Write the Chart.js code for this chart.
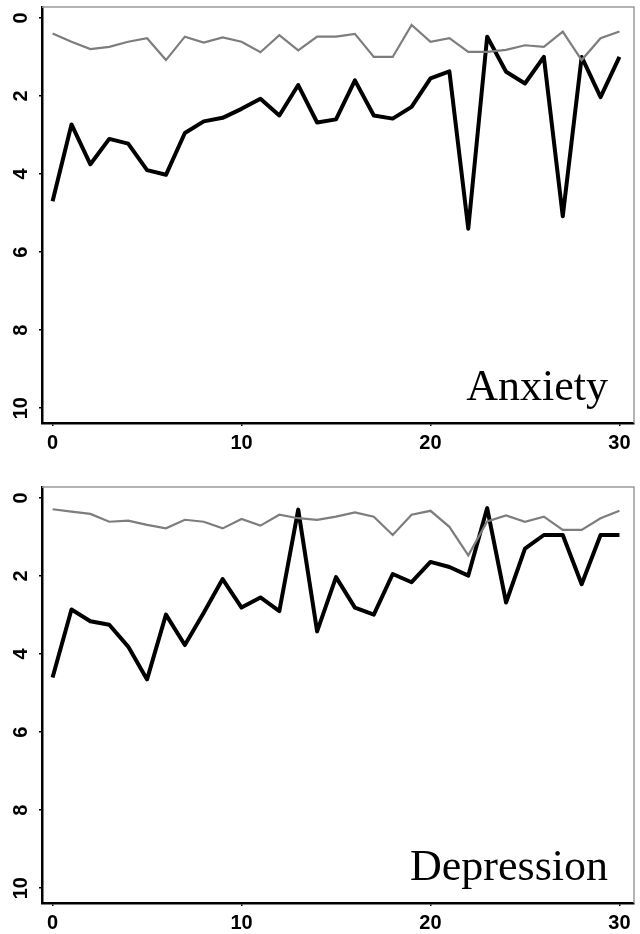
<!DOCTYPE html>
<html>
<head>
<meta charset="utf-8">
<script src="https://cdn.jsdelivr.net/npm/chart.js@4"></script>
<style>
  html, body { margin: 0; padding: 0; background: #fff; }
  body { width: 640px; height: 934px; overflow: hidden; }
  .panel { position: relative; width: 640px; height: 480px; }
</style>
</head>
<body>
<div class="panel"><canvas id="anxiety"></canvas></div>
<div class="panel"><canvas id="depression"></canvas></div>
<script>
// x axis: weeks
const weeks = [0, 1, 2, 3, 4, 5, 6, 7, 8, 9, 10, 11, 12, 13, 14, 15, 16, 17, 18, 19, 20, 21, 22, 23, 24, 25, 26, 27, 28, 29, 30];
const xTicks = [0, 10, 20, 30];
const yTicks = [0, 2, 4, 6, 8, 10];

// Anxiety panel
const anxietyBlack = [4.7, 2.73, 3.75, 3.1, 3.22, 3.9, 4.02, 2.95, 2.65, 2.56, 2.33, 2.07, 2.5, 1.72, 2.68, 2.6, 1.6, 2.5, 2.58, 2.28, 1.55, 1.37, 5.4, 0.48, 1.38, 1.68, 1.0, 5.08, 1.0, 2.03, 1.0];
const anxietyGray  = [0.4, 0.61, 0.8, 0.74, 0.61, 0.52, 1.08, 0.48, 0.63, 0.5, 0.61, 0.88, 0.44, 0.83, 0.48, 0.48, 0.41, 1.0, 1.0, 0.18, 0.61, 0.52, 0.87, 0.87, 0.82, 0.7, 0.74, 0.35, 1.08, 0.52, 0.35];

// Depression panel
const depressionBlack = [4.6, 2.86, 3.16, 3.25, 3.81, 4.65, 2.99, 3.77, 2.94, 2.08, 2.81, 2.55, 2.9, 0.3, 3.42, 2.03, 2.81, 2.99, 1.95, 2.16, 1.64, 1.77, 1.99, 0.26, 2.68, 1.3, 0.95, 0.95, 2.21, 0.95, 0.95];
const depressionGray  = [0.29, 0.35, 0.41, 0.61, 0.58, 0.69, 0.78, 0.56, 0.61, 0.78, 0.54, 0.71, 0.43, 0.52, 0.56, 0.48, 0.37, 0.48, 0.95, 0.43, 0.33, 0.74, 1.47, 0.6, 0.45, 0.61, 0.48, 0.82, 0.82, 0.52, 0.33];

const tickFont = { family: "'Liberation Sans', Arial, sans-serif", size: 20, weight: 'bold' };

// draws the grey top/right frame, rotated y labels and the panel name
const panelDecor = {
  id: 'panelDecor',
  afterDraw(chart, args, opts) {
    const ctx = chart.ctx;
    const a = chart.chartArea;
    const y = chart.scales.y;
    ctx.save();
    // top and right frame
    ctx.strokeStyle = '#9a9a9a';
    ctx.lineWidth = 1.5;
    ctx.beginPath();
    ctx.moveTo(a.left, a.top);
    ctx.lineTo(a.right, a.top);
    ctx.lineTo(a.right, a.bottom);
    ctx.stroke();

    // y tick labels, turned 90 degrees
    ctx.fillStyle = '#000';
    ctx.font = `bold ${tickFont.size}px ${tickFont.family}`;
    ctx.textAlign = 'center';
    ctx.textBaseline = 'middle';
    yTicks.forEach(v => {
      const py = y.getPixelForValue(v);
      ctx.save();
      ctx.translate(a.left - 22, py);
      ctx.rotate(-Math.PI / 2);
      ctx.fillText(String(v), 0, 1);
      ctx.restore();
    });

    // panel name
    ctx.font = "44px 'Liberation Serif', 'Times New Roman', serif";
    ctx.textAlign = 'right';
    ctx.textBaseline = 'alphabetic';
    ctx.fillText(opts.label, a.right - 26, a.bottom - 23);
    ctx.restore();
  }
};

function makePanel(id, label, black, gray) {
  const toPoints = arr => weeks.map((w, i) => ({ x: w, y: arr[i] }));
  return new Chart(document.getElementById(id), {
    type: 'line',
    data: {
      datasets: [
        { data: toPoints(gray), borderColor: '#7d7d7d', borderWidth: 2.2, pointRadius: 0, tension: 0 },
        { data: toPoints(black), borderColor: '#000', borderWidth: 4, pointRadius: 0, tension: 0, borderJoinStyle: 'round' }
      ]
    },
    options: {
      responsive: true,
      maintainAspectRatio: false,
      animation: false,
      layout: { padding: { top: 7, right: 6, left: 0, bottom: 0 } },
      plugins: {
        legend: { display: false },
        tooltip: { enabled: false },
        panelDecor: { label: label }
      },
      scales: {
        x: {
          type: 'linear',
          min: -0.56,
          max: 30.77,
          afterBuildTicks: s => { s.ticks = xTicks.map(v => ({ value: v })); },
          afterFit: s => { s.height = 57; },
          ticks: { color: '#000', font: tickFont, padding: 5, maxRotation: 0 },
          grid: { drawOnChartArea: false, drawTicks: true, tickLength: 3, color: '#000', lineWidth: 1.5 },
          border: { color: '#000', width: 2.5 }
        },
        y: {
          type: 'linear',
          reverse: true,
          min: -0.28,
          max: 10.38,
          afterBuildTicks: s => { s.ticks = yTicks.map(v => ({ value: v })); },
          afterFit: s => { s.width = 42; },
          ticks: { display: false },
          grid: { drawOnChartArea: false, drawTicks: true, tickLength: 3, color: '#000', lineWidth: 1.5 },
          border: { color: '#000', width: 2.5 }
        }
      }
    },
    plugins: [panelDecor]
  });
}

makePanel('anxiety', 'Anxiety', anxietyBlack, anxietyGray);
makePanel('depression', 'Depression', depressionBlack, depressionGray);
</script>
</body>
</html>
